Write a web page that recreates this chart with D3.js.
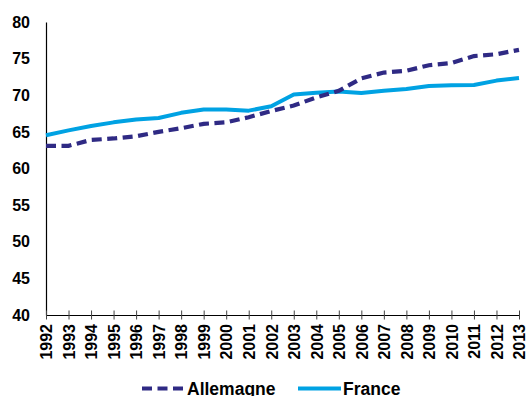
<!DOCTYPE html>
<html>
<head>
<meta charset="utf-8">
<script src="https://cdn.jsdelivr.net/npm/d3@7"></script>
<style>
  html, body { margin: 0; padding: 0; background: #fff; }
  svg { display: block; font-family: "Liberation Sans", Arial, sans-serif; font-weight: bold; }
</style>
</head>
<body>
<div id="chart"></div>
<script>
// Years on the horizontal axis
const years = [1992, 1993, 1994, 1995, 1996, 1997, 1998, 1999, 2000, 2001, 2002,
               2003, 2004, 2005, 2006, 2007, 2008, 2009, 2010, 2011, 2012, 2013];
// Series values
const allemagne = [63.1, 63.1, 63.9, 64.1, 64.4, 65.0, 65.5, 66.1, 66.3, 67.0, 67.85,
                   68.6, 69.7, 70.6, 72.3, 73.1, 73.35, 74.1, 74.4, 75.35, 75.6, 76.2];
const france = [64.55, 65.2, 65.8, 66.3, 66.7, 66.9, 67.6, 68.05, 68.05, 67.9, 68.5,
                70.1, 70.35, 70.5, 70.3, 70.6, 70.85, 71.25, 71.35, 71.4, 72.0, 72.35];
// Vertical axis ticks
const yTicks = [40, 45, 50, 55, 60, 65, 70, 75, 80];
const seriesNames = ["Allemagne", "France"];

const W = 526, H = 396;
const plot = { left: 46, right: 519, top: 22, bottom: 315 };

const svg = d3.select("#chart").append("svg")
  .attr("width", W).attr("height", H);

const x = d3.scaleLinear().domain([years[0], years[years.length - 1]]).range([plot.left, plot.right]);
const y = d3.scaleLinear().domain([40, 80]).range([plot.bottom, plot.top]);

// Y axis: line plus labels, no tick marks
const yAxis = svg.append("g")
  .attr("transform", `translate(${plot.left},0)`)
  .call(d3.axisLeft(y).tickValues(yTicks).tickSize(0).tickPadding(16).tickFormat(d3.format("d")));
yAxis.select(".domain").attr("stroke", "#000").attr("stroke-width", 1.2);
yAxis.selectAll("text")
  .attr("font-size", 16).attr("font-weight", "bold")
  .attr("font-family", "'Liberation Sans', Arial, sans-serif")
  .attr("fill", "#000");

// X axis: crossing ticks and rotated year labels
const xAxis = svg.append("g")
  .attr("transform", `translate(0,${plot.bottom})`)
  .call(d3.axisBottom(x).tickValues(years).tickSizeOuter(0).tickFormat(d3.format("d")));
xAxis.select(".domain").attr("stroke", "#000").attr("stroke-width", 1.2);
xAxis.selectAll(".tick line").attr("y1", -4.5).attr("y2", 4.5)
  .attr("stroke", "#444").attr("stroke-width", 1);
xAxis.selectAll(".tick text")
  .attr("transform", "rotate(-90)")
  .attr("text-anchor", "end")
  .attr("x", -9).attr("y", 0).attr("dy", "0.36em")
  .attr("font-size", 16).attr("font-weight", "bold")
  .attr("font-family", "'Liberation Sans', Arial, sans-serif")
  .attr("fill", "#000");

const colors = { Allemagne: "#2f2a84", France: "#00a2e3" };
const dash = { Allemagne: "10,5.5", France: null };

const line = d3.line().x((d, i) => x(years[i])).y(d => y(d));

svg.append("path").datum(france)
  .attr("d", line).attr("fill", "none")
  .attr("stroke", colors.France).attr("stroke-width", 4).attr("stroke-linejoin", "round");

svg.append("path").datum(allemagne)
  .attr("d", line).attr("fill", "none")
  .attr("stroke", colors.Allemagne).attr("stroke-width", 4.2)
  .attr("stroke-dasharray", dash.Allemagne);

// Legend
const legendItems = [
  { name: seriesNames[0], x0: 142, x1: 183, tx: 187 },
  { name: seriesNames[1], x0: 298, x1: 341, tx: 343 }
];
const lg = svg.append("g");
legendItems.forEach(it => {
  lg.append("line")
    .attr("x1", it.x0).attr("x2", it.x1).attr("y1", 388.5).attr("y2", 388.5)
    .attr("stroke", colors[it.name]).attr("stroke-width", 4.2)
    .attr("stroke-dasharray", dash[it.name]);
  lg.append("text")
    .attr("x", it.tx).attr("y", 394.5)
    .attr("font-size", 17.5).attr("font-weight", "bold")
    .attr("fill", "#000")
    .text(it.name);
});
</script>
</body>
</html>
